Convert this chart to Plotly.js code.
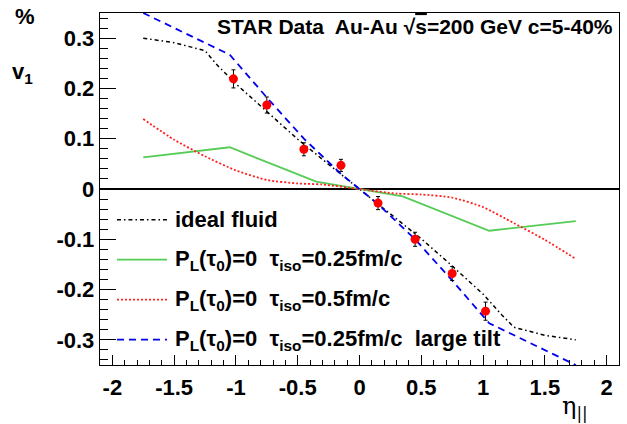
<!DOCTYPE html>
<html>
<head>
<meta charset="utf-8">
<script src="https://cdn.plot.ly/plotly-3.0.1.min.js"></script>
<style>html,body{margin:0;padding:0;background:#fff;}#chart{width:627px;height:424px;}</style>
</head>
<body>
<div id="chart"></div>
<script>
// STAR data points
const dataEta = [-1.02, -0.75, -0.45, -0.15, 0.15, 0.45, 0.75, 1.02];
const dataV1  = [0.219, 0.167, 0.079, 0.047, -0.028, -0.100, -0.168, -0.243];
const dataErr = [0.018, 0.016, 0.013, 0.012, 0.013, 0.014, 0.014, 0.018];

// ideal fluid
const idealEta = [-1.75, -1.5, -1.25, -1.15, -1.0, -0.75, -0.5, -0.25, 0, 0.25, 0.5, 0.75, 1.0, 1.15, 1.25, 1.5, 1.75];
const idealV1  = [0.300, 0.291, 0.275, 0.246, 0.209, 0.153, 0.099, 0.049, 0, -0.049, -0.099, -0.153, -0.209, -0.250, -0.275, -0.291, -0.300];

// PL(tau0)=0 tau_iso=0.25 fm/c
const greenEta = [-1.75, -1.05, -0.35, 0.35, 1.05, 1.75];
const greenV1  = [0.063, 0.083, 0.0145, -0.0147, -0.083, -0.064];

// PL(tau0)=0 tau_iso=0.5 fm/c
const redEta = [-1.75, -1.5, -1.25, -1.0, -0.75, -0.5, -0.3, 0, 0.3, 0.5, 0.75, 1.0, 1.25, 1.5, 1.75];
const redV1  = [0.139, 0.098, 0.065, 0.037, 0.018, 0.011, 0.009, 0, -0.009, -0.011, -0.017, -0.036, -0.068, -0.101, -0.139];

// PL(tau0)=0 tau_iso=0.25 fm/c large tilt
const blueEta = [-1.75, -1.05, -0.75, -0.45, -0.15, 0, 0.15, 0.45, 0.75, 1.05, 1.75];
const blueV1  = [0.35, 0.267, 0.182, 0.100, 0.030, 0, -0.030, -0.100, -0.182, -0.267, -0.35];

const xTickVals = [-2, -1.5, -1, -0.5, 0, 0.5, 1, 1.5, 2];
const xTickText = ['-2', '-1.5', '-1', '-0.5', '0', '0.5', '1', '1.5', '2'];
const yTickVals = [-0.3, -0.2, -0.1, 0, 0.1, 0.2, 0.3];
const yTickText = ['-0.3', '-0.2', '-0.1', '0', '0.1', '0.2', '0.3'];

const legendLabels = [
  'ideal fluid',
  'P<sub>L</sub>(\u03c4<sub>0</sub>)=0\u00a0 \u03c4<sub>iso</sub>=0.25fm/c',
  'P<sub>L</sub>(\u03c4<sub>0</sub>)=0\u00a0 \u03c4<sub>iso</sub>=0.5fm/c',
  'P<sub>L</sub>(\u03c4<sub>0</sub>)=0\u00a0 \u03c4<sub>iso</sub>=0.25fm/c\u00a0 large tilt'
];

const FONT = 'Liberation Sans, Arial, Helvetica, sans-serif';
const BLACK_DASH = '4px,3px,1.5px,3px';
const BLUE_DASH = '7px,5px';
const RED_DOT = '2px,2px';

const styles = [
  {color: '#000000', width: 1.5, dash: BLACK_DASH},
  {color: '#55cc55', width: 1.8, dash: 'solid'},
  {color: '#ff2020', width: 1.8, dash: RED_DOT},
  {color: '#0000ee', width: 1.8, dash: BLUE_DASH}
];

const traces = [
  {x: idealEta, y: idealV1, mode: 'lines', line: styles[0], showlegend: false, hoverinfo: 'skip'},
  {x: greenEta, y: greenV1, mode: 'lines', line: styles[1], showlegend: false, hoverinfo: 'skip'},
  {x: redEta, y: redV1, mode: 'lines', line: Object.assign({shape: 'spline', smoothing: 0.6}, styles[2]), showlegend: false, hoverinfo: 'skip'},
  {x: blueEta, y: blueV1, mode: 'lines', line: styles[3], showlegend: false, hoverinfo: 'skip'},
  {x: dataEta, y: dataV1, mode: 'markers', showlegend: false,
   marker: {color: '#ff0000', size: 9, symbol: 'circle'},
   error_y: {type: 'data', array: dataErr, visible: true, color: '#000000', thickness: 1, width: 2}}
];

// legend drawn in paper coordinates
const legRowsY = [0.4128, 0.2991, 0.1855, 0.0719];
const shapes = [];
const annotations = [];
legRowsY.forEach((yy, i) => {
  shapes.push({type: 'line', xref: 'paper', yref: 'paper', x0: 0.0327, x1: 0.129, y0: yy, y1: yy,
               line: {color: styles[i].color, width: styles[i].width, dash: styles[i].dash}});
  annotations.push({xref: 'paper', yref: 'paper', x: 0.14, y: yy, xanchor: 'left', yanchor: 'middle',
                    text: '<b>' + legendLabels[i] + '</b>', showarrow: false,
                    font: {family: FONT, size: 22, color: '#000'}});
});

annotations.push({xref: 'paper', yref: 'paper', x: 0.992, y: 0.962, xanchor: 'right', yanchor: 'middle',
  text: '<b>STAR Data\u00a0 Au-Au \u221a<span style="text-decoration:overline">s</span>=200 GeV c=5-40%</b>',
  showarrow: false, font: {family: FONT, size: 21, color: '#000'}});
annotations.push({xref: 'paper', yref: 'paper', x: -0.145, y: 0.99, xanchor: 'center', yanchor: 'middle',
  text: '<b>%</b>', showarrow: false, font: {family: FONT, size: 22, color: '#000'}});
annotations.push({xref: 'paper', yref: 'paper', x: -0.15, y: 0.83, xanchor: 'center', yanchor: 'middle',
  text: '<b>v<sub>1</sub></b>', showarrow: false, font: {family: FONT, size: 22, color: '#000'}});
annotations.push({xref: 'paper', yref: 'paper', x: 0.915, y: -0.12, xanchor: 'center', yanchor: 'middle',
  text: '\u03b7<sub>||</sub>', showarrow: false, font: {family: 'DejaVu Serif, serif', size: 24, color: '#000'}});

const layout = {
  width: 627, height: 424,
  margin: {l: 100, r: 7.5, t: 13, b: 59},
  paper_bgcolor: '#ffffff', plot_bgcolor: '#ffffff',
  showlegend: false,
  xaxis: {
    range: [-2.1, 2.1], tickmode: 'array', tickvals: xTickVals, ticktext: xTickText,
    ticks: 'inside', ticklen: 10.5, tickwidth: 1, tickcolor: '#000',
    minor: {dtick: 0.1, tick0: 0, ticks: 'inside', ticklen: 5.3, tickwidth: 1, tickcolor: '#000', showgrid: false},
    showline: true, linecolor: '#000', linewidth: 1.3, mirror: true,
    showgrid: false, zeroline: false,
    tickfont: {family: FONT, size: 22, color: '#000', weight: 'bold'},
    ticklabelstandoff: 2
  },
  yaxis: {
    range: [-0.35, 0.35], tickmode: 'array', tickvals: yTickVals, ticktext: yTickText,
    ticks: 'inside', ticklen: 15.6, tickwidth: 1, tickcolor: '#000',
    minor: {dtick: 0.02, tick0: 0, ticks: 'inside', ticklen: 7.8, tickwidth: 1, tickcolor: '#000', showgrid: false},
    showline: true, linecolor: '#000', linewidth: 1.3, mirror: true,
    showgrid: false, zeroline: true, zerolinecolor: '#000', zerolinewidth: 1.3,
    tickfont: {family: FONT, size: 22, color: '#000', weight: 'bold'},
    ticklabelstandoff: 0
  },
  shapes: shapes,
  annotations: annotations
};

Plotly.newPlot('chart', traces, layout, {staticPlot: true, displayModeBar: false});
</script>
</body>
</html>
